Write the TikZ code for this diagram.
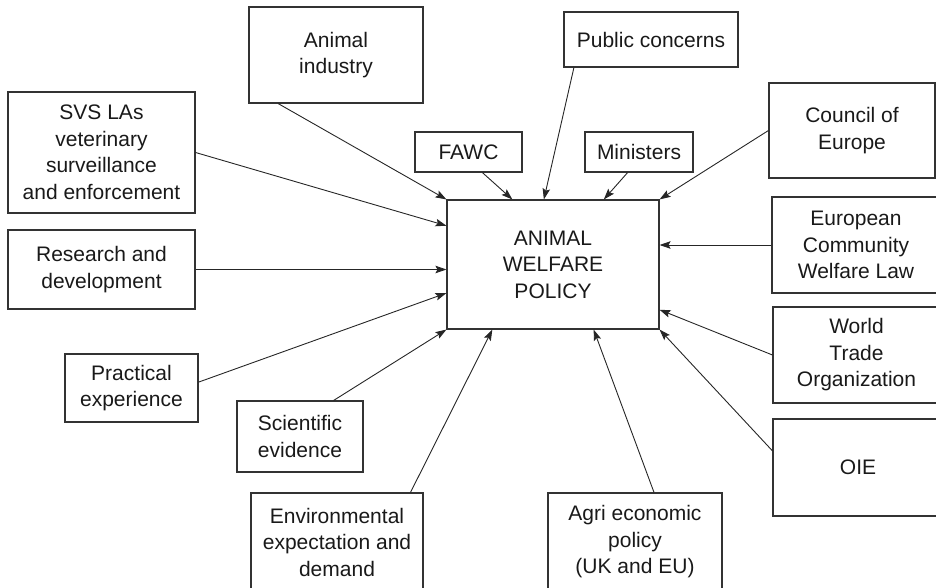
\documentclass[tikz,border=0pt]{standalone}
\usepackage{fontspec}
\setmainfont{Liberation Sans}
\usepackage{tikz}
\usetikzlibrary{arrows.meta}

\begin{document}
\begin{tikzpicture}[x=1pt,y=-1pt,->,>={Stealth[length=11pt,width=7.5pt,inset=2pt]},
                    line width=0.9pt,draw=black!85,
                    font=\fontsize{21}{26.5}\selectfont]
  \tikzstyle{box}=[draw=black!80,line width=1.1pt,align=center,inner sep=0pt,text=black!90]

  \useasboundingbox (0,0) rectangle (936,588);
  \clip (0,0) rectangle (936,588);

  \node[box,minimum width=212,minimum height=129] (awp)  at (553,264.5) {ANIMAL\\WELFARE\\POLICY};

  \node[box,minimum width=174,minimum height=96]  (ind)  at (336,55)    {Animal\\industry};
  \node[box,minimum width=174,minimum height=55]  (pub)  at (651,39.5)  {Public concerns};
  \node[box,minimum width=187,minimum height=121] (svs)  at (101.5,152.5) {SVS LAs\\veterinary\\surveillance\\and enforcement};
  \node[box,minimum width=187,minimum height=79]  (rd)   at (101.5,269.5) {Research and\\development};
  \node[box,minimum width=107,minimum height=40]  (fawc) at (468.5,152) {FAWC};
  \node[box,minimum width=108,minimum height=40]  (mins) at (639,152)   {Ministers};
  \node[box,minimum width=166,minimum height=95]  (cofe) at (852,130.5) {Council of\\Europe};
  \node[box,minimum width=168,minimum height=96]  (ecwl) at (856,245)   {European\\Community\\Welfare Law};
  \node[box,minimum width=167,minimum height=96]  (wto)  at (856.5,355) {World\\Trade\\Organization};
  \node[box,minimum width=170,minimum height=97]  (oie)  at (858,467.5) {OIE};
  \node[box,minimum width=133,minimum height=68]  (prac) at (131.5,388) {Practical\\experience};
  \node[box,minimum width=126,minimum height=71]  (sci)  at (300,436.5) {Scientific\\evidence};
  \node[box,minimum width=172,minimum height=98]  (env)  at (337,542)   {Environmental\\expectation and\\demand};
  \node[box,minimum width=174,minimum height=98]  (agri) at (635,542)   {Agri economic\\policy\\(UK and EU)};

  \path (ind.220)   edge (awp.north west)
        (pub.200)   edge (awp.98)
        (fawc.304)  edge (awp.122)
        (mins.241)  edge (awp.52)
        (cofe.west) edge (awp.north east)
        (svs.east)  edge (awp.160)
        (rd.east)   edge (rd.east -| awp.west)
        (prac.5)    edge (awp.195)
        (sci.47)    edge (awp.south west)
        (env.34)    edge (awp.227)
        (agri.69)   edge (awp.302)
        (oie.169)   edge (awp.south east)
        (wto.west)  edge (awp.337)
        (ecwl.west) edge (ecwl.west -| awp.east);
\end{tikzpicture}
\end{document}
